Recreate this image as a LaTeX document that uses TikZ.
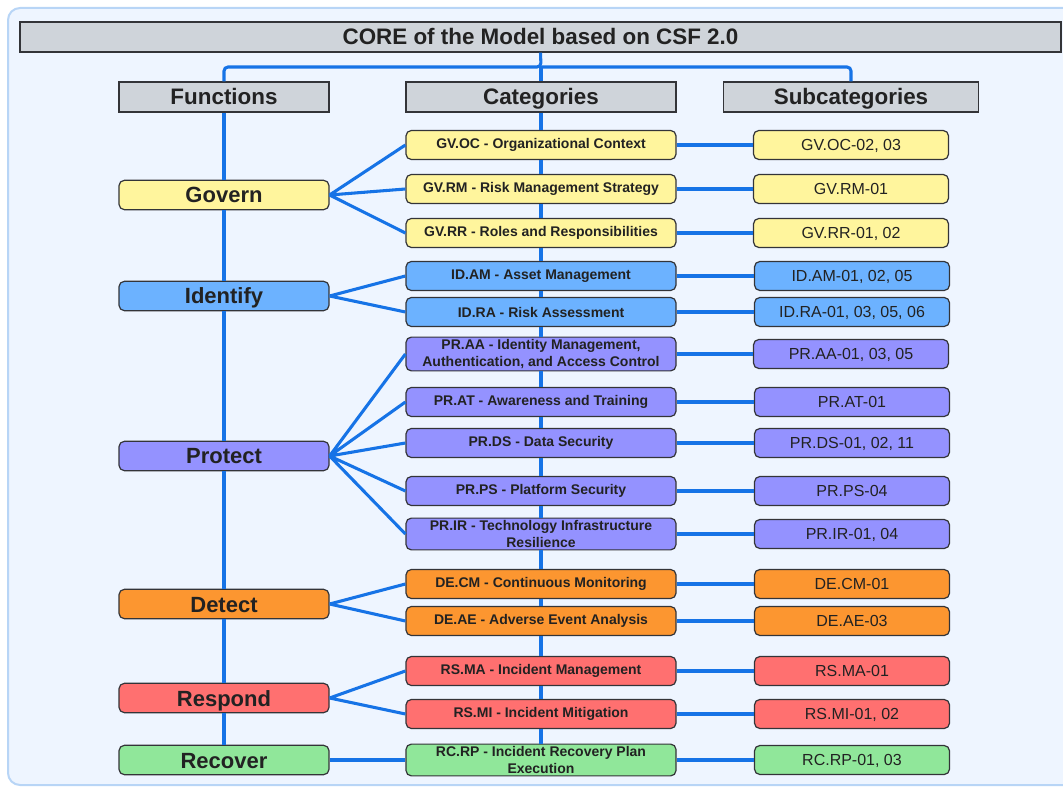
\documentclass[tikz,border=0pt]{standalone}
\usepackage{fontspec}
\setmainfont{Liberation Sans}
\definecolor{bgfill}{HTML}{EEF5FF}
\definecolor{bgline}{HTML}{B8D5F6}
\definecolor{hdrgray}{HTML}{CFD4DA}
\definecolor{boxline}{HTML}{333438}
\definecolor{txt}{HTML}{222222}
\definecolor{linkblue}{HTML}{1673E6}
\definecolor{govy}{HTML}{FFF59D}
\definecolor{idb}{HTML}{6CB2FF}
\definecolor{prp}{HTML}{9492FF}
\definecolor{deo}{HTML}{FC9630}
\definecolor{rsr}{HTML}{FF7070}
\definecolor{rcg}{HTML}{90E79A}

\begin{document}
\begin{tikzpicture}[x=0.75pt,y=-0.75pt,
    hdr/.style={draw=boxline,fill=hdrgray,line width=0.9pt,minimum height=22.5pt,inner sep=1pt,text height=12pt,text depth=0pt,text=txt,font=\fontsize{16.8}{19}\selectfont\bfseries},
    fn/.style={draw=boxline,line width=0.9pt,rounded corners=4pt,minimum width=157.5pt,minimum height=22pt,inner sep=1pt,text height=12pt,text depth=0pt,text=txt,font=\fontsize{16.5}{19}\selectfont\bfseries},
    cat/.style={draw=boxline,line width=0.9pt,rounded corners=4pt,minimum width=202.5pt,minimum height=21.75pt,inner xsep=2pt,inner ysep=1.8pt,align=center,text=txt,font=\fontsize{10.5}{12.5}\selectfont\bfseries},
    sub/.style={draw=boxline,line width=0.9pt,rounded corners=4pt,minimum width=146.25pt,minimum height=21.75pt,inner sep=1pt,text height=8.7pt,text depth=0pt,text=txt,font=\fontsize{12}{14}\selectfont},
    link/.style={draw=linkblue,line width=2.3pt}]
  \useasboundingbox (0,0) rectangle (1063,787);
  \draw[fill=bgfill,draw=bgline,line width=1.5pt,rounded corners=9pt] (8,8) rectangle (1085,785);

  \node[hdr,minimum width=780.75pt] (title) at (540.5,37) {CORE of the Model based on CSF 2.0};
  \node[hdr,minimum width=157.5pt] (functions) at (224,97) {Functions};
  \node[hdr,minimum width=202.5pt] (categories) at (541,97) {Categories};
  \node[hdr,minimum width=191.25pt] (subcats) at (851,97) {Subcategories};

  \node[fn,fill=govy] (govern) at (224,195) {Govern};
  \node[fn,fill=idb] (identify) at (224,296) {Identify};
  \node[fn,fill=prp] (protect) at (224,456) {Protect};
  \node[fn,fill=deo] (detect) at (224,604) {Detect};
  \node[fn,fill=rsr] (respond) at (224,698) {Respond};
  \node[fn,fill=rcg] (recover) at (224,760) {Recover};

  \node[cat,fill=govy] (gvoc) at (541,145) {GV.OC - Organizational Context};
  \node[cat,fill=govy] (gvrm) at (541,189) {GV.RM - Risk Management Strategy};
  \node[cat,fill=govy] (gvrr) at (541,233) {GV.RR - Roles and Responsibilities};
  \node[cat,fill=idb] (idam) at (541,276) {ID.AM - Asset Management};
  \node[cat,fill=idb] (idra) at (541,312) {ID.RA - Risk Assessment};
  \node[cat,fill=prp] (praa) at (541,354) {PR.AA - Identity Management,\\Authentication, and Access Control};
  \node[cat,fill=prp] (prat) at (541,402) {PR.AT - Awareness and Training};
  \node[cat,fill=prp] (prds) at (541,443) {PR.DS - Data Security};
  \node[cat,fill=prp] (prps) at (541,491) {PR.PS - Platform Security};
  \node[cat,fill=prp] (prir) at (541,534) {PR.IR - Technology Infrastructure\\Resilience};
  \node[cat,fill=deo] (decm) at (541,584) {DE.CM - Continuous Monitoring};
  \node[cat,fill=deo] (deae) at (541,621) {DE.AE - Adverse Event Analysis};
  \node[cat,fill=rsr] (rsma) at (541,671) {RS.MA - Incident Management};
  \node[cat,fill=rsr] (rsmi) at (541,714) {RS.MI - Incident Mitigation};
  \node[cat,fill=rcg] (rcrp) at (541,760) {RC.RP - Incident Recovery Plan\\Execution};

  \node[sub,fill=govy] (sgvoc) at (851,145) {GV.OC-02, 03};
  \node[sub,fill=govy] (sgvrm) at (851,189) {GV.RM-01};
  \node[sub,fill=govy] (sgvrr) at (851,233) {GV.RR-01, 02};
  \node[sub,fill=idb] (sidam) at (852,276) {ID.AM-01, 02, 05};
  \node[sub,fill=idb] (sidra) at (852,312) {ID.RA-01, 03, 05, 06};
  \node[sub,fill=prp] (spraa) at (851,354) {PR.AA-01, 03, 05};
  \node[sub,fill=prp] (sprat) at (852,402) {PR.AT-01};
  \node[sub,fill=prp] (sprds) at (852,443) {PR.DS-01, 02, 11};
  \node[sub,fill=prp] (sprps) at (852,491) {PR.PS-04};
  \node[sub,fill=prp] (sprir) at (852,534) {PR.IR-01, 04};
  \node[sub,fill=deo] (sdecm) at (852,584) {DE.CM-01};
  \node[sub,fill=deo] (sdeae) at (852,621) {DE.AE-03};
  \node[sub,fill=rsr] (srsma) at (852,671) {RS.MA-01};
  \node[sub,fill=rsr] (srsmi) at (852,714) {RS.MI-01, 02};
  \node[sub,fill=rcg] (srcrp) at (852,760) {RC.RP-01, 03};

  \coordinate (hub) at (541,67);
  \draw[link,rounded corners=3pt] (title.south) -- (hub) -| (functions.north);
  \draw[link,rounded corners=3pt] (hub) -| (subcats.north);
  \draw[link] (hub) -- (categories.north);

  \draw[link] (functions.south) -- (govern.north) (govern.south) -- (identify.north)
    (identify.south) -- (protect.north) (protect.south) -- (detect.north)
    (detect.south) -- (respond.north) (respond.south) -- (recover.north);
  \draw[link] (categories.south) -- (gvoc.north) (gvoc.south) -- (gvrm.north)
    (gvrm.south) -- (gvrr.north) (gvrr.south) -- (idam.north) (idam.south) -- (idra.north)
    (idra.south) -- (praa.north) (praa.south) -- (prat.north) (prat.south) -- (prds.north)
    (prds.south) -- (prps.north) (prps.south) -- (prir.north) (prir.south) -- (decm.north)
    (decm.south) -- (deae.north) (deae.south) -- (rsma.north) (rsma.south) -- (rsmi.north)
    (rsmi.south) -- (rcrp.north);

  \draw[link] (govern.east) -- (gvoc.west) (govern.east) -- (gvrm.west) (govern.east) -- (gvrr.west);
  \draw[link] (identify.east) -- (idam.west) (identify.east) -- (idra.west);
  \draw[link] (protect.east) -- (praa.west) (protect.east) -- (prat.west) (protect.east) -- (prds.west)
    (protect.east) -- (prps.west) (protect.east) -- (prir.west);
  \draw[link] (detect.east) -- (decm.west) (detect.east) -- (deae.west);
  \draw[link] (respond.east) -- (rsma.west) (respond.east) -- (rsmi.west);
  \draw[link] (recover.east) -- (rcrp.west);

  \draw[link] (gvoc.east) -- (sgvoc.west) (gvrm.east) -- (sgvrm.west) (gvrr.east) -- (sgvrr.west)
    (idam.east) -- (sidam.west) (idra.east) -- (sidra.west) (praa.east) -- (spraa.west)
    (prat.east) -- (sprat.west) (prds.east) -- (sprds.west) (prps.east) -- (sprps.west)
    (prir.east) -- (sprir.west) (decm.east) -- (sdecm.west) (deae.east) -- (sdeae.west)
    (rsma.east) -- (srsma.west) (rsmi.east) -- (srsmi.west) (rcrp.east) -- (srcrp.west);
\end{tikzpicture}
\end{document}
